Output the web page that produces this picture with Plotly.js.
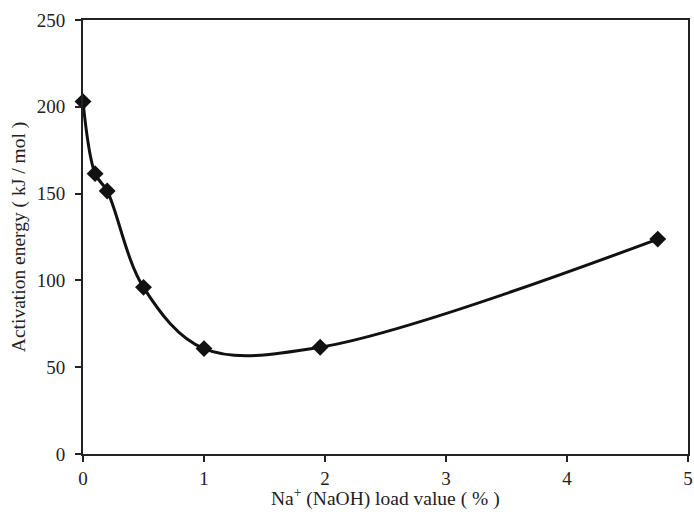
<!DOCTYPE html>
<html>
<head>
<meta charset="utf-8">
<script src="https://cdn.plot.ly/plotly-3.0.1.min.js"></script>
<style>html,body{margin:0;padding:0;background:#fff;}#chart{width:694px;height:514px;}</style>
</head>
<body>
<div id="chart"></div>
<script>
const loadValues = [0, 0.1, 0.2, 0.5, 1.0, 1.96, 4.75];
const activationEnergy = [203, 161.5, 151.5, 96, 60.7, 61.5, 123.8];
const xTicks = [0, 1, 2, 3, 4, 5];
const yTicks = [0, 50, 100, 150, 200, 250];
const xTitle = 'Na<sup>+</sup> (NaOH) load value ( % )';
const yTitle = 'Activation energy ( kJ / mol )';

const font = {family: '"Liberation Serif", "Times New Roman", serif', color: '#222', size: 19};

Plotly.newPlot('chart', [{
  x: loadValues,
  y: activationEnergy,
  type: 'scatter',
  mode: 'lines+markers',
  line: {color: '#111', width: 3, shape: 'spline', smoothing: 1.0},
  marker: {symbol: 'diamond', size: 13, color: '#111'},
  cliponaxis: false,
  showlegend: false
}], {
  width: 694, height: 514,
  margin: {l: 83, r: 6, t: 20, b: 60},
  paper_bgcolor: '#fff', plot_bgcolor: '#fff',
  font: font,
  xaxis: {
    range: [0, 5], tickvals: xTicks, ticktext: xTicks.map(String),
    showgrid: false, zeroline: false,
    showline: true, linecolor: '#222', linewidth: 2, mirror: true,
    ticks: 'outside', ticklen: 6, tickwidth: 2, tickcolor: '#222',
    ticklabelstandoff: 0,
    tickfont: {size: 19}
  },
  yaxis: {
    range: [0, 250], tickvals: yTicks, ticktext: yTicks.map(String),
    showgrid: false, zeroline: false,
    showline: true, linecolor: '#222', linewidth: 2, mirror: true,
    ticks: 'outside', ticklen: 6, tickwidth: 2, tickcolor: '#222',
    ticklabelstandoff: 6,
    tickfont: {size: 19},
    title: {text: yTitle, font: {size: 19.5}, standoff: 6}
  },
  annotations: [{
    text: xTitle, xref: 'paper', yref: 'paper', x: 0.5, y: 0,
    xanchor: 'center', yanchor: 'top', yshift: -29, showarrow: false,
    font: {size: 19.5}
  }]
}, {displayModeBar: false, staticPlot: true});
</script>
</body>
</html>
